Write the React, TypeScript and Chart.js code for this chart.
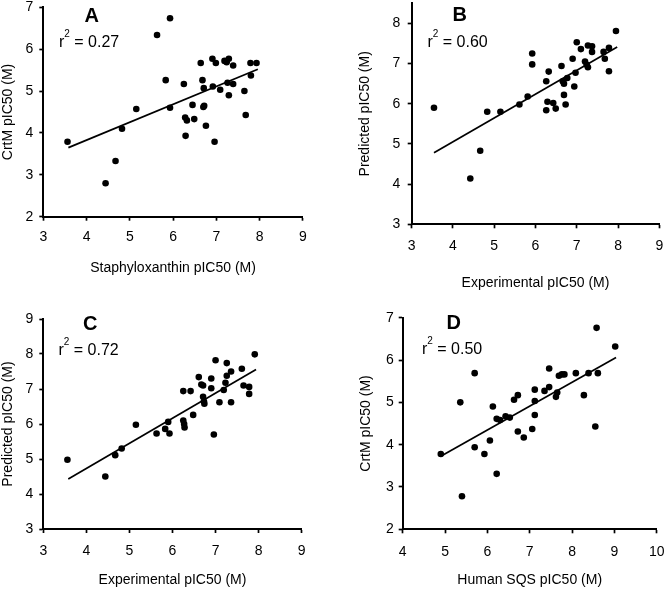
import React, { useEffect, useRef } from 'react';
import { Chart, registerables } from 'chart.js';

Chart.register(...registerables);

const FONT = 'Arial, "Liberation Sans", Helvetica, sans-serif';

// ---------- Panel A ----------
const aLetter = 'A';
const aR2 = '0.27';
const aXTitle = 'Staphyloxanthin pIC50 (M)';
const aYTitle = 'CrtM pIC50 (M)';
const aXTicks = [3, 4, 5, 6, 7, 8, 9];
const aYTicks = [2, 3, 4, 5, 6, 7];
const aX = [3.56, 4.67, 4.44, 4.82, 5.15, 5.63, 5.93, 5.83, 5.93, 6.25, 6.28, 6.32, 6.29, 6.45, 6.49, 6.64, 6.68, 6.71, 6.72, 6.70, 6.76, 6.91, 6.99, 6.92, 6.96, 7.09, 7.19, 7.24, 7.29, 7.39, 7.26, 7.39, 7.29, 7.65, 7.68, 7.79, 7.93, 7.80];
const aY = [3.79, 3.33, 2.80, 4.10, 4.57, 6.34, 6.74, 5.26, 4.60, 5.17, 4.37, 4.30, 3.93, 4.67, 4.33, 5.67, 5.26, 5.07, 4.65, 4.62, 4.17, 5.77, 5.67, 5.11, 3.79, 5.03, 5.72, 5.69, 5.77, 5.61, 5.20, 5.17, 4.90, 5.00, 4.43, 5.67, 5.67, 5.37];
const aTrendX = [3.58, 7.96];
const aTrendY = [3.65, 5.52];

// ---------- Panel B ----------
const bLetter = 'B';
const bR2 = '0.60';
const bXTitle = 'Experimental pIC50 (M)';
const bYTitle = 'Predicted pIC50 (M)';
const bXTicks = [3, 4, 5, 6, 7, 8, 9];
const bYTicks = [3, 4, 5, 6, 7, 8];
const bX = [3.54, 4.42, 4.66, 4.83, 5.15, 5.61, 5.81, 5.92, 5.92, 6.26, 6.32, 6.29, 6.26, 6.43, 6.49, 6.63, 6.66, 6.69, 6.77, 6.69, 6.73, 6.90, 6.94, 6.97, 7.00, 7.10, 7.20, 7.24, 7.27, 7.27, 7.37, 7.37, 7.65, 7.68, 7.78, 7.78, 7.95];
const bY = [5.90, 4.14, 4.83, 5.80, 5.80, 5.98, 6.18, 7.25, 6.98, 6.56, 6.80, 6.05, 5.84, 6.02, 5.88, 6.94, 6.56, 6.50, 6.64, 6.22, 5.98, 7.12, 6.43, 6.77, 7.53, 7.36, 7.05, 6.97, 6.91, 7.45, 7.43, 7.29, 7.29, 7.12, 7.39, 6.81, 7.81];
const bTrendX = [3.54, 7.98];
const bTrendY = [4.78, 7.41];

// ---------- Panel C ----------
const cLetter = 'C';
const cR2 = '0.72';
const cXTitle = 'Experimental pIC50 (M)';
const cYTitle = 'Predicted pIC50 (M)';
const cXTicks = [3, 4, 5, 6, 7, 8, 9];
const cYTicks = [3, 4, 5, 6, 7, 8, 9];
const cX = [3.56, 4.44, 4.67, 4.82, 5.15, 5.63, 5.83, 5.90, 5.93, 6.25, 6.42, 6.25, 6.27, 6.28, 6.48, 6.61, 6.67, 6.71, 6.71, 6.73, 6.74, 6.90, 6.90, 6.96, 7.00, 7.09, 7.19, 7.23, 7.26, 7.26, 7.36, 7.36, 7.61, 7.65, 7.78, 7.78, 7.91];
const cY = [4.98, 4.50, 5.11, 5.30, 5.98, 5.73, 5.86, 6.06, 5.73, 6.94, 6.94, 6.10, 6.00, 5.90, 6.26, 7.34, 7.13, 7.10, 6.78, 6.64, 6.58, 7.30, 7.02, 5.70, 7.82, 6.62, 6.97, 7.18, 7.74, 7.38, 7.50, 6.62, 7.58, 7.10, 7.06, 6.86, 7.99];
const cTrendX = [3.58, 7.94];
const cTrendY = [4.43, 7.56];

// ---------- Panel D ----------
const dLetter = 'D';
const dR2 = '0.50';
const dXTitle = 'Human SQS pIC50 (M)';
const dYTitle = 'CrtM pIC50 (M)';
const dXTicks = [4, 5, 6, 7, 8, 9, 10];
const dYTicks = [2, 3, 4, 5, 6, 7];
const dX = [4.90, 5.36, 5.40, 5.70, 5.70, 5.93, 6.06, 6.13, 6.22, 6.22, 6.30, 6.43, 6.53, 6.63, 6.72, 6.72, 6.86, 7.06, 7.12, 7.12, 7.12, 7.35, 7.46, 7.46, 7.62, 7.65, 7.69, 7.76, 7.82, 8.09, 8.28, 8.39, 8.55, 8.58, 8.61, 9.02];
const dY = [3.78, 5.00, 2.78, 5.69, 3.94, 3.78, 4.10, 4.90, 3.31, 4.61, 4.58, 4.67, 4.64, 5.06, 5.17, 4.31, 4.17, 4.37, 5.30, 5.03, 4.70, 5.27, 5.80, 5.36, 5.13, 5.23, 5.63, 5.66, 5.66, 5.69, 5.17, 5.69, 4.43, 6.76, 5.69, 6.32];
const dTrendX = [4.91, 9.04];
const dTrendY = [3.73, 6.06];

type PanelProps = {
  xs: number[]; ys: number[]; tx: number[]; ty: number[];
  xTicks: number[]; yTicks: number[]; xMin: number; xMax: number; yMin: number; yMax: number;
  xTitle: string; yTitle: string; letter: string; r2: string;
  rect: { left: number; top: number; w: number; h: number };
  pad: { left: number; top: number; right: number; bottom: number };
  yWidth: number; xHeight: number; xTickPad: number; yTickPad: number;
  letterPos: [number, number]; rPos: [number, number];
};

const panelText = {
  id: 'panelText',
  afterDraw(chart: any, _args: any, opts: any) {
    const ctx = chart.ctx;
    ctx.save();
    ctx.fillStyle = '#000';
    ctx.textBaseline = 'alphabetic';
    ctx.font = `bold 20px ${FONT}`;
    ctx.textAlign = 'center';
    ctx.fillText(opts.letter, opts.letterPos[0], opts.letterPos[1]);
    ctx.textAlign = 'left';
    let x = opts.rPos[0];
    const y = opts.rPos[1];
    ctx.font = `16px ${FONT}`;
    ctx.fillText('r', x, y);
    x += ctx.measureText('r').width;
    ctx.font = `10px ${FONT}`;
    ctx.fillText('2', x, y - 10);
    x += ctx.measureText('2').width;
    ctx.font = `16px ${FONT}`;
    ctx.fillText(' = ' + opts.r2, x, y);
    ctx.restore();
  },
};

function Panel(p: PanelProps) {
  const ref = useRef<HTMLCanvasElement | null>(null);
  useEffect(() => {
    if (!ref.current) return;
    const tickFont = { family: FONT, size: 14 };
    const chart = new Chart(ref.current, {
      type: 'scatter',
      data: {
        datasets: [
          {
            data: p.xs.map((x, i) => ({ x, y: p.ys[i] })),
            backgroundColor: '#000',
            borderWidth: 0,
            pointRadius: 3.3,
            pointHoverRadius: 3.3,
          },
          {
            data: p.tx.map((x, i) => ({ x, y: p.ty[i] })),
            showLine: true,
            borderColor: '#000',
            borderWidth: 1.7,
            pointRadius: 0,
            fill: false,
          } as any,
        ],
      },
      options: {
        responsive: false,
        animation: false,
        events: [],
        layout: { padding: p.pad },
        plugins: {
          legend: { display: false },
          tooltip: { enabled: false },
          panelText: { letter: p.letter, r2: p.r2, letterPos: p.letterPos, rPos: p.rPos },
        } as any,
        scales: {
          x: {
            type: 'linear',
            min: p.xMin,
            max: p.xMax,
            afterBuildTicks: (s: any) => { s.ticks = p.xTicks.map((v) => ({ value: v })); },
            afterFit: (s: any) => {
              s.height = p.xHeight;
              s.paddingLeft = 0; s.paddingRight = 0; s.paddingTop = 0; s.paddingBottom = 0;
            },
            ticks: { color: '#000', font: tickFont, padding: p.xTickPad, maxRotation: 0, autoSkip: false },
            grid: { display: true, drawOnChartArea: false, drawTicks: true, tickLength: 4, tickWidth: 1.7, tickColor: '#000' },
            border: { display: true, color: '#000', width: 2 },
            title: { display: true, text: p.xTitle, color: '#000', font: { family: FONT, size: 14 }, padding: 0 },
          },
          y: {
            type: 'linear',
            min: p.yMin,
            max: p.yMax,
            afterBuildTicks: (s: any) => { s.ticks = p.yTicks.map((v) => ({ value: v })); },
            afterFit: (s: any) => {
              s.width = p.yWidth;
              s.paddingLeft = 0; s.paddingRight = 0; s.paddingTop = 0; s.paddingBottom = 0;
            },
            ticks: { color: '#000', font: tickFont, padding: p.yTickPad, autoSkip: false },
            grid: { display: true, drawOnChartArea: false, drawTicks: true, tickLength: 4, tickWidth: 1.7, tickColor: '#000' },
            border: { display: true, color: '#000', width: 2 },
            title: { display: true, text: p.yTitle, color: '#000', font: { family: FONT, size: 14 }, padding: 0 },
          },
        },
      } as any,
      plugins: [panelText],
    });
    return () => chart.destroy();
  }, []);
  return (
    <canvas
      ref={ref}
      width={p.rect.w}
      height={p.rect.h}
      style={{ position: 'absolute', left: p.rect.left, top: p.rect.top, width: p.rect.w, height: p.rect.h, display: 'block' }}
    />
  );
}

export default function App() {
  return (
    <div style={{ position: 'absolute', left: 0, top: 0, width: 664, height: 589, background: '#fff', overflow: 'hidden' }}>
      <Panel
        xs={aX} ys={aY} tx={aTrendX} ty={aTrendY}
        xTicks={aXTicks} yTicks={aYTicks} xMin={3} xMax={9} yMin={2} yMax={7}
        xTitle={aXTitle} yTitle={aYTitle} letter={aLetter} r2={aR2}
        rect={{ left: 0, top: 0, w: 332, h: 295 }}
        pad={{ left: 0, top: 7.3, right: 29.2, bottom: 18.6 }}
        yWidth={43.3} xHeight={59.7} xTickPad={8.2} yTickPad={6}
        letterPos={[91.7, 21.7]} rPos={[59, 46.7]}
      />
      <Panel
        xs={bX} ys={bY} tx={bTrendX} ty={bTrendY}
        xTicks={bXTicks} yTicks={bYTicks} xMin={3} xMax={9} yMin={3} yMax={8.5}
        xTitle={bXTitle} yTitle={bYTitle} letter={bLetter} r2={bR2}
        rect={{ left: 332, top: 0, w: 332, h: 295 }}
        pad={{ left: 24.6, top: 1.4, right: 4.7, bottom: 3.1 }}
        yWidth={55.1} xHeight={67.6} xTickPad={9.3} yTickPad={7.5}
        letterPos={[127.7, 20.7]} rPos={[95.5, 46.7]}
      />
      <Panel
        xs={cX} ys={cY} tx={cTrendX} ty={cTrendY}
        xTicks={cXTicks} yTicks={cYTicks} xMin={3} xMax={9} yMin={3} yMax={9}
        xTitle={cXTitle} yTitle={cYTitle} letter={cLetter} r2={cR2}
        rect={{ left: 0, top: 292, w: 332, h: 297 }}
        pad={{ left: 0, top: 27, right: 30.3, bottom: 0.1 }}
        yWidth={43.3} xHeight={59.9} xTickPad={10} yTickPad={6}
        letterPos={[90.3, 38]} rPos={[58.5, 63]}
      />
      <Panel
        xs={dX} ys={dY} tx={dTrendX} ty={dTrendY}
        xTicks={dXTicks} yTicks={dYTicks} xMin={4} xMax={10} yMin={2} yMax={7}
        xTitle={dXTitle} yTitle={dYTitle} letter={dLetter} r2={dR2}
        rect={{ left: 332, top: 292, w: 332, h: 297 }}
        pad={{ left: 25.6, top: 25.7, right: 7.3, bottom: 0.1 }}
        yWidth={45.1} xHeight={59.6} xTickPad={10} yTickPad={5}
        letterPos={[121.7, 37.3]} rPos={[90, 62]}
      />
    </div>
  );
}
